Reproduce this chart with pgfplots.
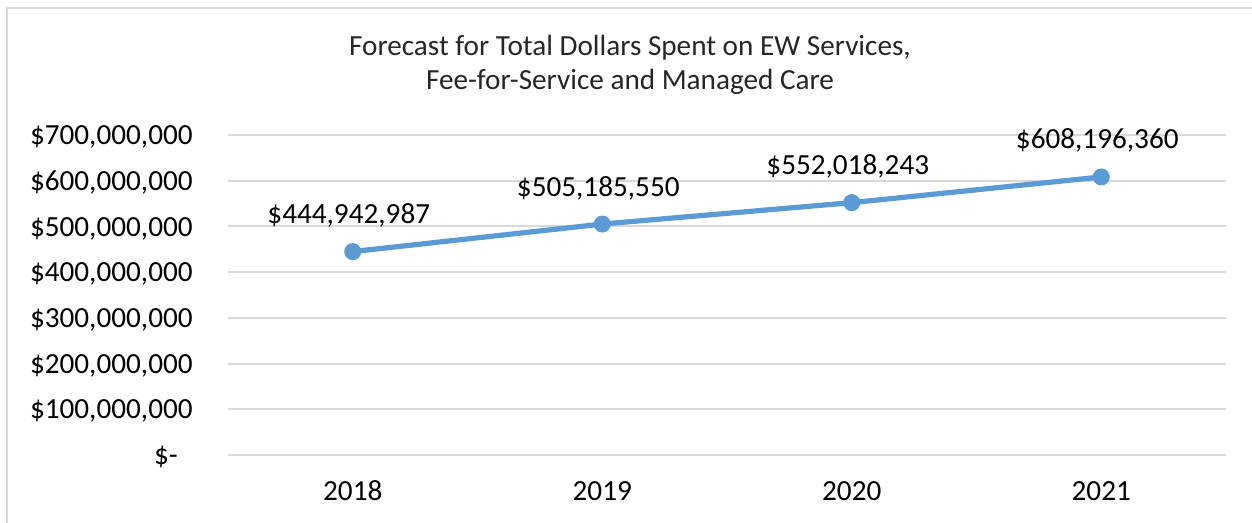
\documentclass[border=0pt]{standalone}
\usepackage{pgfplots}
\pgfplotsset{compat=1.18}
\usepackage{pgfplotstable}
\usepackage{fontspec}
\setmainfont{Carlito}
\definecolor{exblue}{HTML}{5B9BD5}
\definecolor{gridc}{HTML}{D9D9D9}
\pgfplotstableread{
x y label
0 444942987 444,942,987
1 505185550 505,185,550
2 552018243 552,018,243
3 608196360 608,196,360
}\datatable
\newcommand\lblfont{\fontsize{14.6}{17}\selectfont}
\begin{document}
\begin{tikzpicture}[x=0.5pt,y=0.5pt]
\useasboundingbox (0,0) rectangle (1252,523);
\draw[gridc, line width=1pt] (7,-5) -- (7,515) -- (1257,515);
\node[font=\lblfont, align=center, text=black!85] at (630,458) {Forecast for Total Dollars Spent on EW Services,\\Fee-for-Service and Managed Care};
\begin{axis}[
  at={(114pt,34pt)}, anchor=south west,
  width=499pt, height=160pt, scale only axis,
  xmin=-0.5, xmax=3.5, ymin=0, ymax=700000000,
  axis line style={draw=none},
  major tick length=0pt,
  ymajorgrids,
  grid style={gridc, line width=1pt},
  xtick={0,1,2,3}, xticklabels={2018,2019,2020,2021},
  ytick={0,100000000,200000000,300000000,400000000,500000000,600000000,700000000},
  yticklabels={{\$-\hphantom{0}},{\$100,000,000},{\$200,000,000},{\$300,000,000},{\$400,000,000},{\$500,000,000},{\$600,000,000},{\$700,000,000}},
  scaled y ticks=false,
  tick label style={font=\lblfont, inner sep=0pt, text=black},
  yticklabel style={anchor=base east, xshift=-17.5pt, yshift=-4.8pt},
  xticklabel style={anchor=base, yshift=-23pt},
  clip=false,
]
\addplot[exblue, line width=2.6pt, mark=*, mark size=4pt,
  mark options={solid, line width=0.5pt, fill=exblue, draw=exblue},
  point meta=explicit symbolic,
  nodes near coords={\$\pgfplotspointmeta},
  nodes near coords style={anchor=base, yshift=14pt, xshift=-2pt, font=\lblfont, text=black, inner sep=0pt},
] table[x=x, y=y, meta=label] {\datatable};
\end{axis}
\end{tikzpicture}
\end{document}
